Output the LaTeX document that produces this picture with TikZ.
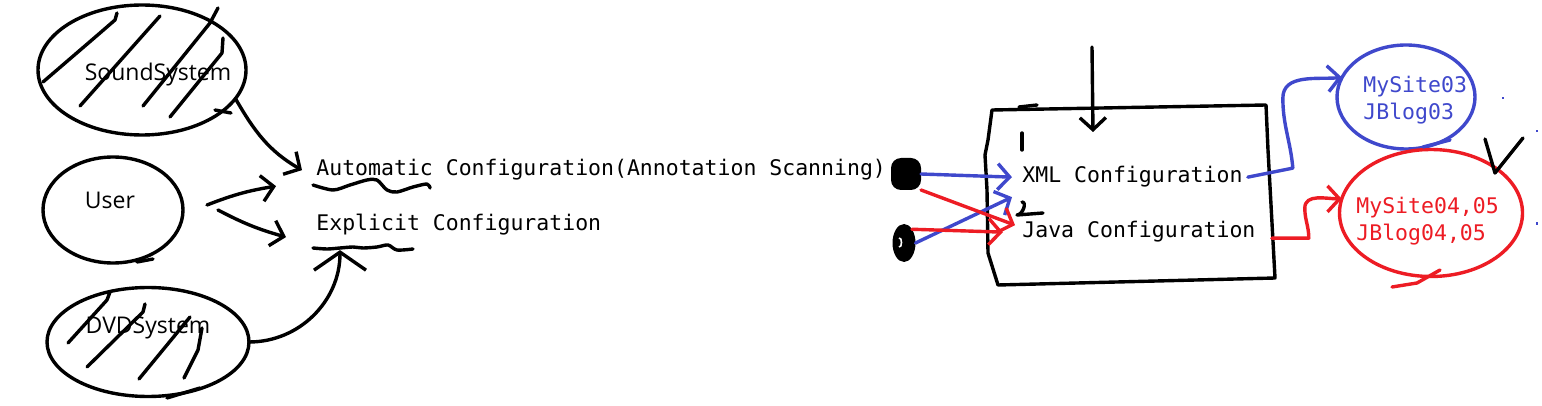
\documentclass[tikz,border=0pt]{standalone}
\usepackage{fontspec}
\setsansfont{Open Sans}
\setmonofont{DejaVu Sans Mono}
\usetikzlibrary{positioning, arrows.meta, shapes.geometric}
\definecolor{penblue}{HTML}{3F48CC}
\definecolor{penred}{HTML}{ED1C24}

\begin{document}
\begin{tikzpicture}[
    x=0.5pt, y=-0.5pt,
    handline/.style={line width=1.7pt, line cap=round, line join=round},
    blob/.style={ellipse, draw, handline, inner sep=0pt, outer sep=0pt},
    jar/.style={fill=black, inner sep=0pt, outer sep=0pt},
    blobtext/.style={font=\sffamily\fontsize{11.5}{14}\selectfont, inner sep=0pt},
    mono/.style={font=\ttfamily\fontsize{10.75}{13.5}\selectfont, inner sep=0pt,
      align=left},
    arrowed/.style={-{Straight Barb[length=6pt, width=13pt]}}]
  \path[use as bounding box, fill=white] (0,0) rectangle (1542,406);

  % sources on the left
  \node[blob, minimum width=104pt, minimum height=65pt] (sound) at (142,70) {};
  \node[blob, minimum width=70pt, minimum height=53pt] (user) at (113,210) {};
  \node[blob, minimum width=101pt, minimum height=54.5pt] (dvd) at (148,342) {};
  \node[blobtext] (soundtxt) at (158,75) {SoundSystem};
  \node[blobtext] (usertxt) at (110,200) {User};
  \node[blobtext] (dvdtxt) at (148,328) {DVDSystem};

  % hatching
  \draw[handline] (117,13) -- (115,20) -- (100,33) -- (43,82);
  \draw[handline] (160,16) -- (80,106);
  \draw[handline] (218,8) -- (210,23) -- (143,106);
  \draw[handline] (223,38) -- (222,53) -- (170,117);
  \draw[handline] (215,110) -- (231,113);
  \draw[handline] (110,292) -- (107,300) -- (68,343);
  \draw[handline] (145,304) -- (143,312) -- (87,367);
  \draw[handline] (190,317) -- (139,379);
  \draw[handline] (202,328) -- (198,350) -- (184,378);
  \draw[handline] (167,398) -- (200,388);
  \draw[handline] (137,262) -- (153,259);

  % configuration kinds
  \node[mono, anchor=base west] (auto) at (316,176)
    {Automatic Configuration(Annotation Scanning)};
  \node[mono, anchor=base west] (expl) at (316,231) {Explicit Configuration};
  \draw[handline] plot[smooth] coordinates {(313,185) (333,190) (350,185)
    (367,180) (377,180) (387,190) (397,192) (413,187) (427,184) (430,188)};
  \draw[handline] plot[smooth] coordinates {(313,248) (327,249) (340,248)
    (353,247) (363,248) (377,247) (388,245) (397,250) (413,249)};

  \draw[handline, arrowed] (sound.-17) to[out=-60, in=150]
    ([xshift=-7pt]auto.west);
  \draw[handline, arrowed] ([xshift=12pt, yshift=2.5pt]user.east)
    to[bend left=6] ([xshift=-20pt, yshift=-8pt]auto.west);
  \draw[handline, arrowed] ([xshift=17.5pt]user.east)
    to[bend right=6] ([xshift=-15pt, yshift=-6pt]expl.west);
  \draw[handline, -{Straight Barb[length=9pt, width=26pt]}] (dvd.east)
    to[out=0, in=-90] ([xshift=12pt, yshift=-12.5pt]expl.west);

  % container box
  \draw[handline] (992,110) -- (1266,105) -- (1268,150) -- (1275,278)
    -- (998,285) -- (988,253) -- (987,190) -- (985,155) -- (988,140) -- cycle;
  \draw[handline] (1019,107) -- (1037,105);
  \draw[handline] (1022,133) -- (1022,150);
  \draw[handline] (1022,202) to[out=0, in=0] (1017,215) -- (1043,213);
  \coordinate (feed) at (1092,47);
  \coordinate (drop) at (1093,132);
  \draw[handline, arrowed] (feed) -- (drop);

  \node[mono, anchor=base west] (xml) at (1022,183) {XML Configuration};
  \node[mono, anchor=base west] (java) at (1022,238) {Java Configuration};

  \node[jar, rectangle, rounded corners=5pt, minimum width=15pt,
    minimum height=16pt] (jar1) at (906,174) {};
  \node[jar, ellipse, minimum width=11.5pt, minimum height=19pt] (jar2)
    at (904,243) {};
  \draw[white, line width=0.8pt] (899,238) to[out=20, in=-20] (899,247);

  \draw[handline, penblue, arrowed] (jar1.east) -- ([xshift=-5pt]xml.west);
  \draw[handline, penblue, arrowed] (jar2.east)
    -- ([xshift=-5pt, yshift=-10pt]xml.west);
  \draw[handline, penred, arrowed] (jar1.south east)
    -- ([xshift=-3.5pt, yshift=3.5pt]java.west);
  \draw[handline, penred, arrowed] (jar2.60) -- ([xshift=-9.5pt]java.west);

  % targets on the right
  \node[blob, draw=penblue, minimum width=69pt, minimum height=52pt] (s3blob)
    at (1406,97) {};
  \node[blob, draw=penred, minimum width=91.5pt, minimum height=63.5pt]
    (s45blob) at (1431,213) {};
  \node[mono, text=penblue, anchor=west] (s3txt) at (1363,100)
    {MySite03\\JBlog03};
  \node[mono, text=penred, anchor=west] (s45txt) at (1356,221)
    {MySite04,05\\JBlog04,05};
  \draw[handline, penblue] (1423,147) -- (1450,140);
  \draw[handline, penred] (1392,287) -- (1417,283) -- (1440,270);

  \draw[handline, penblue, arrowed] ([xshift=2.5pt]xml.east) -- ++(45,-9)
    to[out=95, in=-90] ++(-10,-70) to[out=90, in=185] (s3blob.163);
  \draw[handline, penred, arrowed] ([xshift=8pt, yshift=-3pt]java.east)
    -- ++(37,0) to[out=90, in=-90] ++(-4,-30) to[out=90, in=180] (s45blob.171);

  \draw[handline] (1485,139) -- (1495,173) -- (1523,138);
  \fill[penblue] (1502,97) rectangle ++(2,2);
  \fill[penblue] (1536,130) rectangle ++(2,2);
  \fill[penblue] (1536,222) rectangle ++(2,3);
\end{tikzpicture}
\end{document}
